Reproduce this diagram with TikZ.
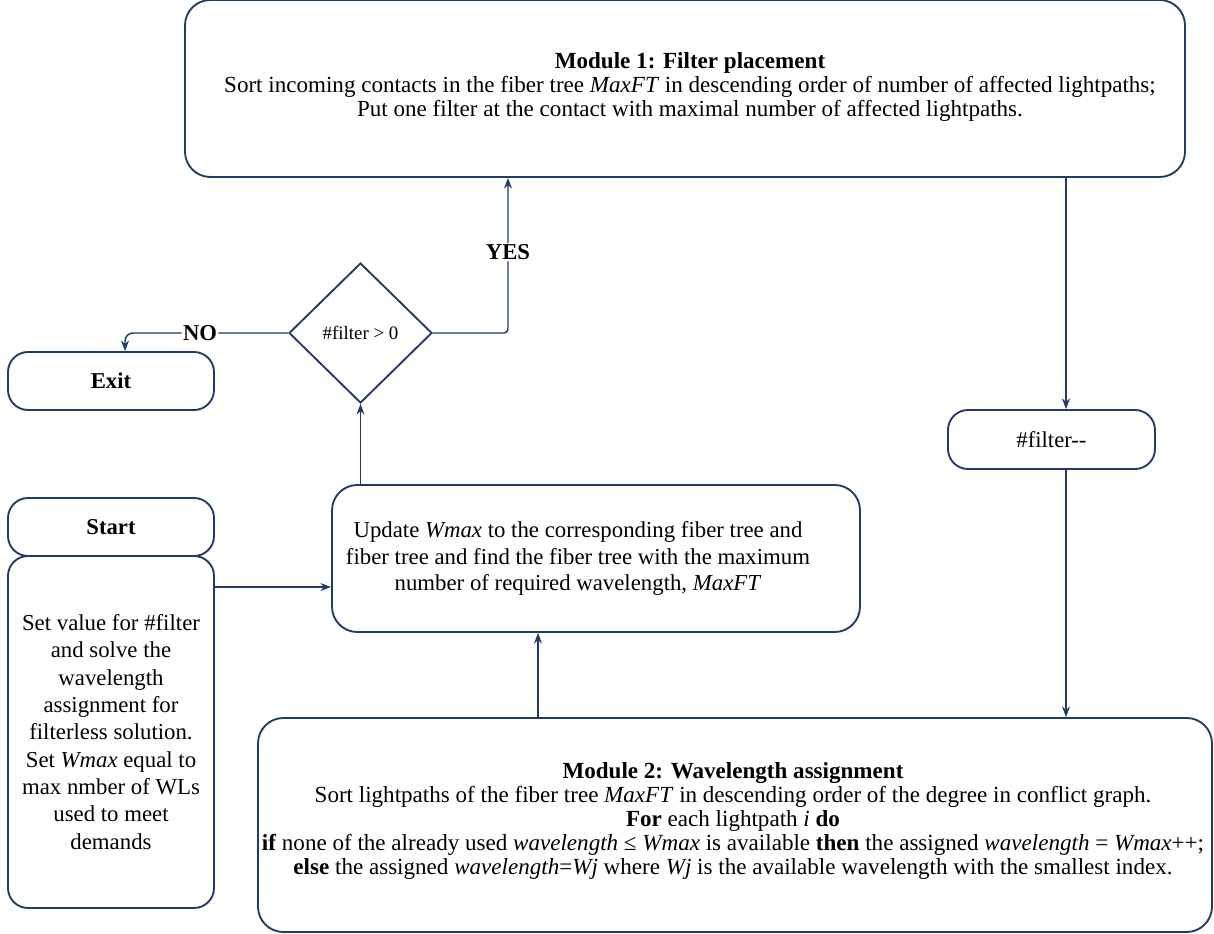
\documentclass[tikz,border=0pt]{standalone}
\usepackage{fontspec}
\setmainfont{Liberation Serif}
\usetikzlibrary{arrows.meta,shapes.geometric}
\definecolor{edge}{HTML}{1F3B66}
\begin{document}
\begin{tikzpicture}[x=0.75pt,y=-0.75pt,
  box/.style={draw=edge,line width=1.4pt,rounded corners=15pt,align=center,inner sep=0pt},
  bigbox/.style={box,rounded corners=19pt},
  modtext/.style={align=center,inner sep=0pt,font=\fontsize{17.3}{17.9}\selectfont},
  bodytext/.style={align=center,inner sep=0pt,font=\fontsize{17.1}{19.6}\selectfont},
  termtext/.style={font=\bfseries\fontsize{17}{19}\selectfont},
  arr/.style={draw=edge,line width=1.1pt,-{Stealth[length=8pt,width=6pt]}},
  tag/.style={font=\bfseries\fontsize{17}{19}\selectfont,fill=white,inner sep=1pt}]
\useasboundingbox (0,0) rectangle (1214,934);

% Module 1
\node[bigbox,minimum width=750pt,minimum height=132.75pt] (m1) at (685,88.5) {};
\node[modtext] (m1text) at (690,87)
  {\textbf{Module 1: Filter placement}\\
   Sort incoming contacts in the fiber tree \textit{MaxFT} in descending order of number of affected lightpaths;\\
   Put one filter at the contact with maximal number of affected lightpaths.};

% decision
\node[draw=edge,line width=1.4pt,diamond,minimum width=107.25pt,minimum height=105pt,inner sep=0pt,
  font=\fontsize{14.2}{16}\selectfont] (dia) at (360.5,333) {\#filter > 0};

% terminals
\node[box,termtext,minimum width=154.5pt,minimum height=43.5pt] (exit) at (111,381) {Exit};
\node[box,termtext,minimum width=154.5pt,minimum height=43.5pt] (start) at (111,527) {Start};

% initialisation step
\node[box,minimum width=154.5pt,minimum height=264pt,font=\fontsize{17.1}{20.5}\selectfont] (sbody) at (111,732)
  {Set value for \#filter\\ and solve the\\ wavelength\\ assignment for\\ filterless solution.\\
   Set \textit{Wmax} equal to\\ max nmber of WLs\\ used to meet\\ demands};

% update step
\node[box,rounded corners=19pt,minimum width=396pt,minimum height=110.25pt] (upd) at (596,558.5) {};
\node[bodytext] (updtext) at (578,558.5)
  {Update \textit{Wmax} to the corresponding fiber tree and\\
   fiber tree and find the fiber tree with the maximum\\
   number of required wavelength, \textit{MaxFT}};

% filter counter
\node[box,minimum width=155.25pt,minimum height=44.25pt,font=\fontsize{17}{19}\selectfont] (fdec) at (1051.5,439.5) {\#filter-{}-};

% Module 2
\node[bigbox,minimum width=715.5pt,minimum height=160.5pt] (m2) at (735,825) {};
\node[modtext] (m2text) at (733,821)
  {\textbf{Module 2: Wavelength assignment}\\
   Sort lightpaths of the fiber tree \textit{MaxFT} in descending order of the degree in conflict graph.\\
   \textbf{For} each lightpath \textit{i} \textbf{do}\\
   \textbf{if} none of the already used \textit{wavelength} ≤ \textit{Wmax} is available \textbf{then} the assigned \textit{wavelength} = \textit{Wmax}++;\\
   \textbf{else} the assigned \textit{wavelength}=\textit{Wj} where \textit{Wj} is the available wavelength with the smallest index.};

% connector columns
\coordinate (cA) at (1066,0);
\coordinate (cB) at (538,0);
\coordinate (cY) at (508,0);
\coordinate (cN) at (125,0);
\coordinate (rStart) at (0,587);

% connectors
\draw[arr] (m1.south -| cA) -- (fdec.north -| cA);
\draw[arr] (fdec.south -| cA) -- (m2.north -| cA);
\draw[arr] (m2.north -| cB) -- (upd.south -| cB);
\draw[arr] (upd.north -| dia.south) -- (dia.south);
\draw[arr,rounded corners=3pt] (dia.east) -- (dia.east -| cY) -- node[tag,pos=0.52] (yes) {YES} (m1.south -| cY);
\draw[arr,rounded corners=6pt] (dia.west) -- node[tag,pos=0.54] (no) {NO} (dia.west -| cN) -- (exit.north -| cN);
\draw[arr] (sbody.east |- rStart) -- (upd.west |- rStart);
\end{tikzpicture}
\end{document}
